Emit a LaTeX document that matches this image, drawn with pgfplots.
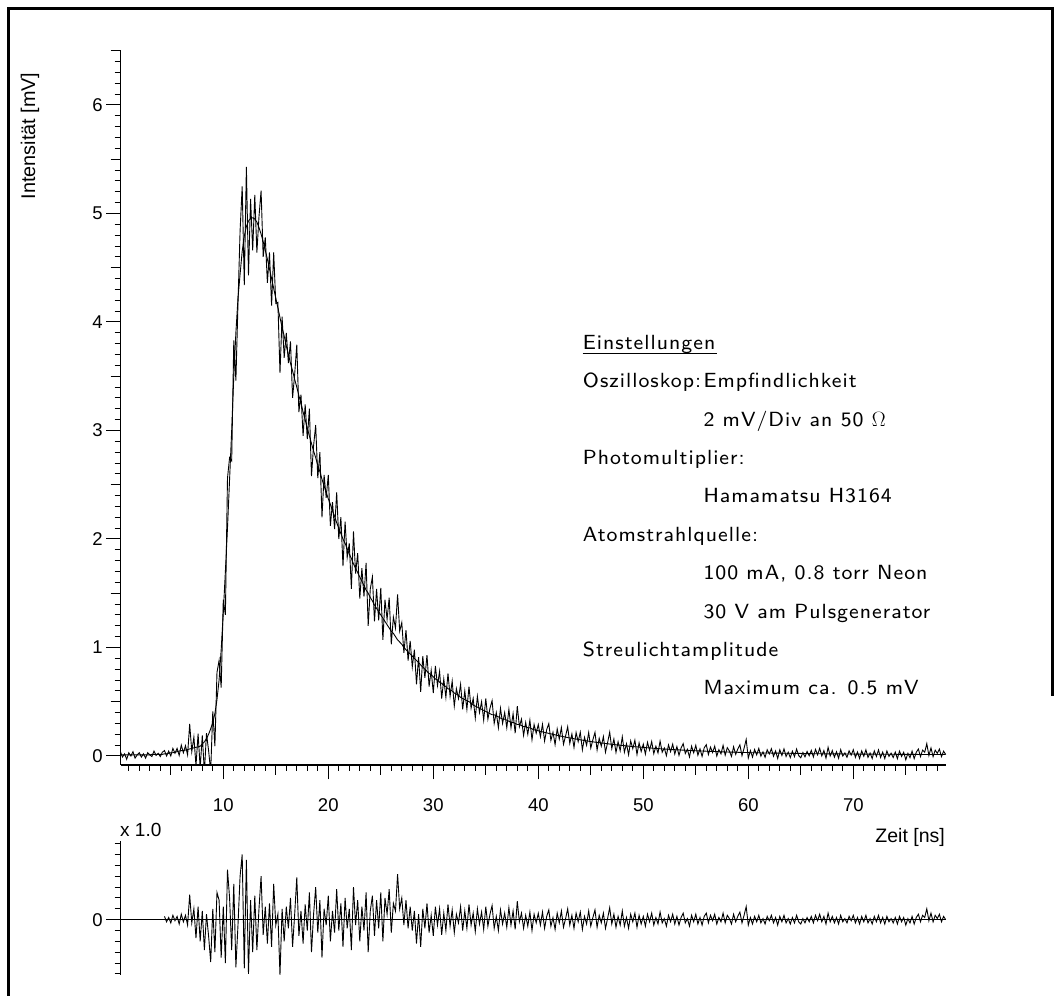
\documentclass[border=0pt]{standalone}
\usepackage{fontspec}
\setmainfont{Liberation Sans}
\newfontfamily\annot[LetterSpace=5]{lmsans8-regular.otf}
\usepackage{pgfplots}
\usepackage{pgfplotstable}
\pgfplotsset{compat=1.18}
\pgfplotstableread{
x y f
0.2 0.040 0.010
0.4 -0.010 0.010
0.6 0.020 0.010
0.8 -0.030 0.010
1.0 0.030 0.010
1.2 0.000 0.010
1.4 0.040 0.010
1.6 -0.020 0.010
1.8 0.010 0.010
2.0 0.030 0.010
2.2 -0.010 0.010
2.4 0.020 0.010
2.6 -0.020 0.010
2.8 0.030 0.010
3.0 0.010 0.010
3.2 -0.005 0.015
3.4 0.045 0.015
3.6 0.005 0.015
3.8 0.025 0.015
4.0 -0.005 0.015
4.2 0.035 0.015
4.4 0.050 0.020
4.6 0.000 0.020
4.8 0.045 0.025
5.0 0.000 0.030
5.2 0.070 0.030
5.4 0.025 0.035
5.6 0.070 0.040
5.8 0.005 0.045
6.0 0.100 0.050
6.2 0.030 0.050
6.4 0.095 0.055
6.6 0.010 0.060
6.8 0.295 0.065
7.0 0.040 0.070
7.2 0.175 0.075
7.4 -0.090 0.080
7.6 0.205 0.085
7.8 -0.110 0.090
8.0 0.190 0.110
8.2 -0.150 0.130
8.4 0.210 0.160
8.6 0.050 0.200
8.8 -0.140 0.250
9.0 0.410 0.310
9.2 0.090 0.390
9.4 0.770 0.520
9.6 0.880 0.700
9.8 0.630 0.980
10.0 1.440 1.320
10.2 1.300 1.700
10.4 2.560 2.100
10.6 2.750 2.550
10.8 2.720 3.000
11.0 3.830 3.500
11.2 3.460 3.900
11.4 4.170 4.220
11.6 4.840 4.440
11.8 5.250 4.650
12.0 4.340 4.790
12.2 5.430 4.880
12.4 4.430 4.930
12.6 5.135 4.955
12.8 4.660 4.960
13.0 5.170 4.950
13.2 4.640 4.920
13.4 4.970 4.870
13.6 5.210 4.810
13.8 4.600 4.740
14.0 4.780 4.660
14.2 4.360 4.580
14.4 4.640 4.490
14.6 4.150 4.400
14.8 4.640 4.310
15.0 4.170 4.220
15.2 4.180 4.130
15.4 3.530 4.040
15.6 4.050 3.950
15.8 3.670 3.870
16.0 3.900 3.780
16.2 3.620 3.700
16.4 3.820 3.620
16.6 3.300 3.550
16.8 3.520 3.470
17.0 3.790 3.400
17.2 3.170 3.320
17.4 3.330 3.250
17.6 2.950 3.170
17.8 3.240 3.100
18.0 2.920 3.020
18.2 3.200 2.950
18.4 2.580 2.880
18.6 2.860 2.810
18.8 3.050 2.750
19.0 2.560 2.680
19.2 2.800 2.620
19.4 2.200 2.550
19.6 2.590 2.490
19.8 2.380 2.430
20.0 2.590 2.370
20.2 2.120 2.320
20.4 2.340 2.260
20.6 2.090 2.210
20.8 2.430 2.150
21.0 2.000 2.100
21.2 2.200 2.050
21.4 1.750 2.000
21.6 2.160 1.960
21.8 1.830 1.910
22.0 1.960 1.860
22.2 1.540 1.820
22.4 2.070 1.770
22.6 1.680 1.730
22.8 1.870 1.690
23.0 1.450 1.650
23.2 1.730 1.610
23.4 1.470 1.570
23.6 1.780 1.530
23.8 1.200 1.500
24.0 1.540 1.460
24.2 1.650 1.430
24.4 1.240 1.390
24.6 1.540 1.360
24.8 1.250 1.330
25.0 1.550 1.300
25.2 1.070 1.270
25.4 1.440 1.240
25.6 1.260 1.210
25.8 1.460 1.180
26.0 1.030 1.150
26.2 1.280 1.130
26.4 1.180 1.100
26.6 1.490 1.070
26.8 1.150 1.050
27.0 1.230 1.030
27.2 0.950 1.000
27.4 1.160 0.980
27.6 0.880 0.960
27.8 1.060 0.940
28.0 0.820 0.920
28.2 0.980 0.900
28.4 0.660 0.880
28.6 0.910 0.860
28.8 0.590 0.840
29.0 0.920 0.820
29.2 0.720 0.800
29.4 0.930 0.780
29.6 0.640 0.760
29.8 0.790 0.750
30.0 0.580 0.730
30.2 0.830 0.710
30.4 0.650 0.700
30.6 0.780 0.680
30.8 0.530 0.670
31.0 0.710 0.650
31.2 0.540 0.640
31.4 0.760 0.620
31.6 0.550 0.610
31.8 0.690 0.600
32.0 0.460 0.580
32.2 0.620 0.570
32.4 0.530 0.560
32.6 0.660 0.540
32.8 0.430 0.530
33.0 0.600 0.520
33.2 0.430 0.510
33.4 0.640 0.500
33.6 0.440 0.490
33.8 0.530 0.470
34.0 0.350 0.460
34.2 0.550 0.450
34.4 0.400 0.440
34.6 0.500 0.430
34.8 0.330 0.420
35.0 0.530 0.410
35.2 0.340 0.400
35.4 0.440 0.390
35.6 0.510 0.380
35.8 0.300 0.380
36.0 0.400 0.370
36.2 0.260 0.360
36.4 0.440 0.350
36.6 0.300 0.340
36.8 0.400 0.340
37.0 0.260 0.330
37.2 0.430 0.320
37.4 0.260 0.310
37.6 0.390 0.310
37.8 0.210 0.300
38.0 0.460 0.290
38.2 0.270 0.290
38.4 0.340 0.280
38.6 0.190 0.270
38.8 0.310 0.270
39.0 0.200 0.260
39.2 0.330 0.260
39.4 0.150 0.250
39.6 0.290 0.240
39.8 0.210 0.240
40.0 0.290 0.232
40.2 0.177 0.227
40.4 0.292 0.222
40.6 0.138 0.218
40.8 0.243 0.213
41.0 0.298 0.208
41.2 0.144 0.204
41.4 0.219 0.199
41.6 0.105 0.195
41.8 0.250 0.190
42.0 0.156 0.186
42.2 0.262 0.182
42.4 0.108 0.178
42.6 0.184 0.174
42.8 0.270 0.170
43.0 0.116 0.166
43.2 0.203 0.163
43.4 0.079 0.159
43.6 0.216 0.156
43.8 0.132 0.152
44.0 0.219 0.149
44.2 0.056 0.146
44.4 0.172 0.142
44.6 0.099 0.139
44.8 0.216 0.136
45.0 0.073 0.133
45.2 0.150 0.130
45.4 0.218 0.128
45.6 0.055 0.125
45.8 0.163 0.123
46.0 0.090 0.120
46.2 0.178 0.118
46.4 0.035 0.115
46.6 0.123 0.113
46.8 0.220 0.110
47.0 0.068 0.108
47.2 0.156 0.106
47.4 0.033 0.103
47.6 0.131 0.101
47.8 0.049 0.099
48.0 0.177 0.097
48.2 0.035 0.095
48.4 0.113 0.093
48.6 0.011 0.091
48.8 0.139 0.089
49.0 0.067 0.087
49.2 0.145 0.085
49.4 0.014 0.084
49.6 0.122 0.082
49.8 0.041 0.081
50.0 0.109 0.079
50.2 0.017 0.077
50.4 0.126 0.076
50.6 0.054 0.074
50.8 0.133 0.073
51.0 0.021 0.071
51.2 0.090 0.070
51.4 0.028 0.068
51.6 0.137 0.067
51.8 0.035 0.065
52.0 0.074 0.064
52.2 0.003 0.063
52.4 0.102 0.062
52.6 0.040 0.060
52.8 0.109 0.059
53.0 0.018 0.058
53.2 0.087 0.057
53.4 0.006 0.056
53.6 0.075 0.055
53.8 0.114 0.054
54.0 0.023 0.053
54.2 0.062 0.052
54.4 -0.009 0.051
54.6 0.090 0.050
54.8 0.029 0.049
55.0 0.098 0.048
55.2 0.007 0.047
55.4 0.066 0.046
55.6 -0.004 0.046
55.8 0.075 0.045
56.0 0.104 0.044
56.2 0.013 0.043
56.4 0.082 0.042
56.6 0.032 0.042
56.8 0.091 0.041
57.0 0.000 0.040
57.2 0.059 0.039
57.4 0.019 0.039
57.6 0.098 0.038
57.8 0.007 0.037
58.0 0.077 0.037
58.2 0.046 0.036
58.4 -0.004 0.036
58.6 0.085 0.035
58.8 0.015 0.035
59.0 0.064 0.034
59.2 0.103 0.033
59.4 0.003 0.033
59.6 0.072 0.032
59.8 0.152 0.032
60.0 -0.019 0.031
60.2 0.050 0.030
60.4 -0.010 0.030
60.6 0.060 0.030
60.8 0.010 0.030
61.0 0.070 0.030
61.2 -0.002 0.028
61.4 0.038 0.028
61.6 -0.012 0.028
61.8 0.058 0.028
62.0 0.018 0.028
62.2 0.067 0.027
62.4 -0.003 0.027
62.6 0.047 0.027
62.8 -0.023 0.027
63.0 0.057 0.027
63.2 0.005 0.025
63.4 0.065 0.025
63.6 -0.005 0.025
63.8 0.035 0.025
64.0 -0.015 0.025
64.2 0.044 0.024
64.4 -0.006 0.024
64.6 0.064 0.024
64.8 0.004 0.024
65.0 -0.016 0.024
65.2 0.032 0.022
65.4 -0.008 0.022
65.6 0.042 0.022
65.8 0.002 0.022
66.0 0.052 0.022
66.2 -0.009 0.021
66.4 0.061 0.021
66.6 0.011 0.021
66.8 0.071 0.021
67.0 0.001 0.021
67.2 0.050 0.020
67.4 -0.020 0.020
67.6 0.080 0.020
67.8 0.000 0.020
68.0 0.050 0.020
68.2 -0.011 0.019
68.4 0.039 0.019
68.6 -0.021 0.019
68.8 0.059 0.019
69.0 -0.001 0.019
69.2 0.028 0.018
69.4 -0.012 0.018
69.6 0.048 0.018
69.8 0.008 0.018
70.0 0.058 0.018
70.2 -0.013 0.017
70.4 0.037 0.017
70.6 -0.023 0.017
70.8 0.047 0.017
71.0 -0.003 0.017
71.2 0.057 0.017
71.4 -0.013 0.017
71.6 0.027 0.017
71.8 -0.023 0.017
72.0 0.047 0.017
72.2 -0.004 0.016
72.4 0.056 0.016
72.6 -0.014 0.016
72.8 0.036 0.016
73.0 -0.024 0.016
73.2 0.046 0.016
73.4 -0.004 0.016
73.6 0.026 0.016
73.8 -0.014 0.016
74.0 0.036 0.016
74.2 -0.025 0.015
74.4 0.045 0.015
74.6 -0.005 0.015
74.8 0.035 0.015
75.0 -0.035 0.015
75.2 0.025 0.015
75.4 -0.015 0.015
75.6 0.045 0.015
75.8 -0.025 0.015
76.0 0.035 0.015
76.2 0.064 0.014
76.4 -0.006 0.014
76.6 0.054 0.014
76.8 0.034 0.014
77.0 0.114 0.014
77.2 0.004 0.014
77.4 0.074 0.014
77.6 -0.006 0.014
77.8 0.054 0.014
78.0 0.024 0.014
78.2 0.064 0.014
78.4 -0.006 0.014
78.6 0.044 0.014
78.8 0.014 0.014
}\datatable

\begin{document}
\begin{tikzpicture}
\useasboundingbox (0,0) rectangle (1061pt,996pt);
\draw[line width=3pt] (8.8pt,0pt) -- (8.8pt,987.5pt) -- (1052pt,987.5pt) -- (1052pt,300pt);
\begin{axis}[
  at={(120.7pt,231pt)}, anchor=south west,
  scale only axis, width=825.3pt, height=714.3pt,
  xmin=0.23, xmax=78.83, ymin=-0.083, ymax=6.5,
  axis x line=bottom, axis y line=left,
  axis line style={-, line width=1.2pt},
  tick align=outside,
  tick style={black, line width=1pt},
  major tick length=14.5pt, minor tick length=6pt,
  xtick={10,20,...,70}, ytick={0,1,...,6},
  minor xtick={1,2,...,78},
  minor ytick={0.1,0.2,0.3,0.4,0.6,0.7,0.8,0.9,1.1,1.2,1.3,1.4,1.6,1.7,1.8,1.9,2.1,2.2,2.3,2.4,2.6,2.7,2.8,2.9,3.1,3.2,3.3,3.4,3.6,3.7,3.8,3.9,4.1,4.2,4.3,4.4,4.6,4.7,4.8,4.9,5.1,5.2,5.3,5.4,5.6,5.7,5.8,5.9,6.1,6.2,6.3,6.4},
  extra x ticks={5,15,25,35,45,55,65,75},
  extra y ticks={0.5,1.5,2.5,3.5,4.5,5.5,6.5},
  extra x tick labels={}, extra y tick labels={},
  extra tick style={major tick length=10pt},
  /pgf/number format/assume math mode=true,
  ticklabel style={font=\fontsize{18.5}{20}\selectfont},
  xticklabel style={yshift=-16pt},
  clip=true,
]
\addplot[black, line width=0.9pt] table[x=x, y=y]{\datatable};
\addplot[black, line width=0.9pt] table[x=x, y=f]{\datatable};
\end{axis}
\begin{axis}[
  at={(120.7pt,21pt)}, anchor=south west,
  scale only axis, width=825.3pt, height=133.5pt,
  xmin=0.23, xmax=78.83, ymin=-0.51, ymax=0.72,
  axis x line=none, axis y line=left,
  axis line style={-, line width=1.2pt},
  tick align=outside,
  tick style={black, line width=1pt},
  major tick length=14.5pt, minor tick length=6pt,
  xtick=\empty, ytick={0},
  minor ytick={-0.5,-0.4,-0.3,-0.2,-0.1,0.1,0.2,0.3,0.4,0.5,0.6,0.7},
  /pgf/number format/assume math mode=true,
  ticklabel style={font=\fontsize{18.5}{20}\selectfont},
]
\addplot[black, line width=1pt] coordinates {(0.23,0) (78.83,0)};
\addplot[black, line width=0.9pt, restrict x to domain=4.3:80] table[x=x, y expr=\thisrow{y}-\thisrow{f}]{\datatable};
\end{axis}
\node[rotate=90, font=\fontsize{19.8}{21}\selectfont] at (30pt,860pt) {Intensität [mV]};
\node[anchor=base east, inner sep=0pt, font=\fontsize{19.5}{21}\selectfont] at (945pt,153.7pt) {Zeit [ns]};
\node[anchor=base west, inner sep=0pt, font=\fontsize{19}{21}\selectfont] at (120pt,159pt) {x 1.0};
\begin{scope}[every node/.style={anchor=base west, inner sep=0pt, font=\annot\fontsize{20.5}{24}\selectfont}]
\node at (582.7pt,646.7pt) {Einstellungen};
\draw[line width=1.2pt] (582.7pt,642.5pt) -- (717.3pt,642.5pt);
\node at (582.7pt,608.3pt) {Oszilloskop:};
\node at (703.3pt,608.3pt) {Empfindlichkeit};
\node at (703.3pt,569.9pt) {2 mV/Div an 50 $\Omega$};
\node at (582.7pt,531.5pt) {Photomultiplier:};
\node at (703.3pt,493.1pt) {Hamamatsu H3164};
\node at (582.7pt,454.7pt) {Atomstrahlquelle:};
\node at (703.3pt,416.3pt) {100 mA, 0.8 torr Neon};
\node at (703.3pt,377.9pt) {30 V am Pulsgenerator};
\node at (582.7pt,339.5pt) {Streulichtamplitude};
\node at (703.3pt,301.1pt) {Maximum ca. 0.5 mV};
\end{scope}
\end{tikzpicture}
\end{document}
